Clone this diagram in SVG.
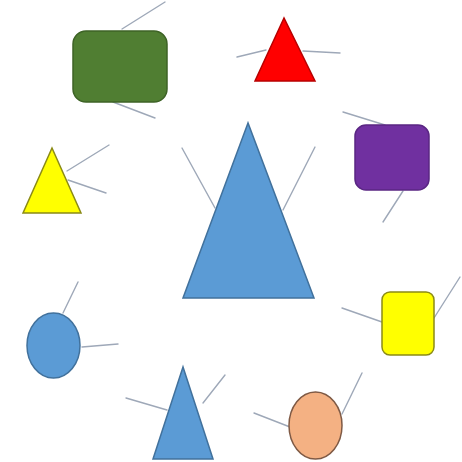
<svg xmlns="http://www.w3.org/2000/svg" width="462" height="462" viewBox="0 0 462 462">
<style>
.ln{stroke:#9ea8b8;stroke-width:1.4;fill:none;stroke-linecap:round}
.s{stroke-width:1.5}
</style>
<rect width="462" height="462" fill="#ffffff"/>
<g id="connectors">
<line class="ln" x1="122" y1="29" x2="165" y2="2"/>
<line class="ln" x1="113" y1="102" x2="155" y2="118"/>
<line class="ln" x1="237" y1="57" x2="266" y2="50"/>
<line class="ln" x1="303" y1="51" x2="340" y2="53"/>
<line class="ln" x1="67" y1="171" x2="109" y2="145"/>
<line class="ln" x1="68" y1="180" x2="106" y2="193"/>
<line class="ln" x1="182" y1="148" x2="215" y2="208"/>
<line class="ln" x1="315" y1="147" x2="283" y2="210"/>
<line class="ln" x1="343" y1="112" x2="385" y2="125"/>
<line class="ln" x1="403" y1="191" x2="383" y2="222"/>
<line class="ln" x1="63" y1="313" x2="78" y2="282"/>
<line class="ln" x1="82" y1="347" x2="118" y2="344"/>
<line class="ln" x1="342" y1="308" x2="382" y2="322"/>
<line class="ln" x1="434" y1="318" x2="460" y2="277"/>
<line class="ln" x1="126" y1="398" x2="167" y2="410"/>
<line class="ln" x1="203" y1="403" x2="225" y2="375"/>
<line class="ln" x1="254" y1="413" x2="290" y2="427"/>
<line class="ln" x1="342" y1="414" x2="362" y2="373"/>
</g>
<g id="green-rect"><rect class="s" x="73" y="31" width="94" height="71" rx="13" fill="#507e32" stroke="#3e6326"/></g>
<g id="red-triangle"><polygon class="s" points="284,18 255,81 315,81" fill="#ff0000" stroke="#b80000"/></g>
<g id="yellow-triangle"><polygon class="s" points="52,148 23,213 81,213" fill="#ffff00" stroke="#8b8b16"/></g>
<g id="big-blue-triangle"><polygon class="s" points="248,123 183,298 314,298" fill="#5b9bd5" stroke="#41719c"/></g>
<g id="purple-rect"><rect class="s" x="355" y="125" width="74" height="65" rx="11" fill="#7030a0" stroke="#5a2683"/></g>
<g id="blue-circle"><ellipse class="s" cx="53.5" cy="345.5" rx="26.5" ry="32.5" fill="#5b9bd5" stroke="#41719c"/></g>
<g id="yellow-rect"><rect class="s" x="382" y="292" width="52" height="63" rx="8" fill="#ffff00" stroke="#8b8b16"/></g>
<g id="small-blue-triangle"><polygon class="s" points="183,367 153,459 213,459" fill="#5b9bd5" stroke="#41719c"/></g>
<g id="orange-ellipse"><ellipse class="s" cx="315.5" cy="425.5" rx="26.5" ry="33.5" fill="#f4b183" stroke="#7f5a45"/></g>
</svg>
